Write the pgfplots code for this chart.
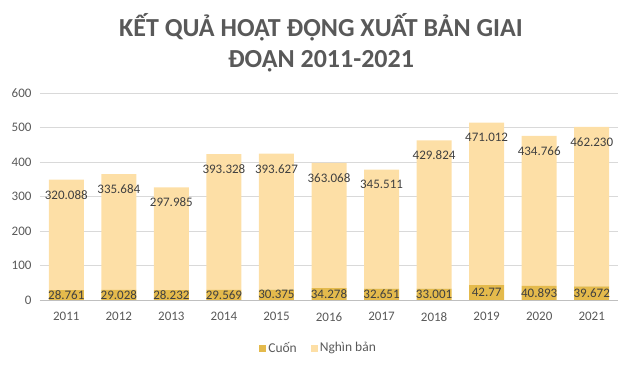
\documentclass[border=0pt]{standalone}
\usepackage{fontspec}
\setmainfont{Carlito}
\usepackage{pgfplots}
\pgfplotsset{compat=1.18}
\definecolor{cuon}{HTML}{E4BA4C}
\definecolor{nghin}{HTML}{FDDFA6}
\definecolor{txt}{HTML}{595959}
\definecolor{lbl}{HTML}{404040}
\definecolor{gridc}{HTML}{D9D9D9}
\definecolor{axc}{HTML}{BFBFBF}
\begin{document}
\begin{tikzpicture}
\begin{axis}[
  name=ax,
  scale only axis, width=578pt, height=207pt,
  xmin=-0.5, xmax=10.5, ymin=0, ymax=600,
  ybar stacked, bar width=35pt,
  xtick={0,1,...,10},
  xticklabels={2011,2012,2013,2014,2015,2016,2017,2018,2019,2020,2021},
  ytick={0,100,...,600},
  ymajorgrids, grid style={draw=gridc, line width=0.75pt},
  axis x line*=bottom, axis y line*=left,
  y axis line style={draw=none},
  x axis line style={draw=axc, line width=0.75pt},
  major tick length=0pt,
  /pgf/number format/assume math mode=true,
  tick label style={font=\fontsize{13}{15}\selectfont, text=txt},
  yticklabel style={xshift=-5pt},
  xticklabel style={yshift=-9pt},
  legend style={at={(0.482,-0.232)}, anchor=center, draw=none, fill=none,
    legend columns=2, font=\fontsize{13.5}{15}\selectfont, text=txt,
    nodes={inner xsep=2pt},
    /tikz/every even column/.append style={column sep=12pt}},
  legend image code/.code={\fill[#1] (0pt,-3.5pt) rectangle (7pt,3.5pt);},
]
\addplot[fill=cuon, draw=none, nodes near coords, point meta=explicit symbolic,
  every node near coord/.append style={anchor=center,
    font=\fontsize{13}{15}\selectfont, text=lbl}]
coordinates {
(0,28.761) [28.761]
(1,29.028) [29.028]
(2,28.232) [28.232]
(3,29.569) [29.569]
(4,30.375) [30.375]
(5,34.278) [34.278]
(6,32.651) [32.651]
(7,33.001) [33.001]
(8,42.77) [42.77]
(9,40.893) [40.893]
(10,39.672) [39.672]
};
\addplot[fill=nghin, draw=none, nodes near coords, point meta=explicit symbolic,
  visualization depends on={value \thisrow{v} \as \myv},
  every node near coord/.append style={anchor=center, yshift={0.1725*\myv pt-15pt},
    font=\fontsize{13}{15}\selectfont, text=lbl}]
table[x=x, y=v, meta=lab] {
x v lab
0 320.088 320.088
1 335.684 335.684
2 297.985 297.985
3 393.328 393.328
4 393.627 393.627
5 363.068 363.068
6 345.511 345.511
7 429.824 429.824
8 471.012 471.012
9 434.766 434.766
10 462.230 462.230
};
\legend{Cuốn, Nghìn bản}
\end{axis}
\node[font=\bfseries\fontsize{26}{31}\selectfont, text=txt, align=center]
  at ([xshift=-8pt,yshift=50pt]ax.north) {KẾT QUẢ HOẠT ĐỘNG XUẤT BẢN GIAI\\ĐOẠN 2011-2021};
\path ([xshift=-40pt,yshift=-69pt]ax.south west) rectangle ([xshift=16pt,yshift=93pt]ax.north east);
\end{tikzpicture}
\end{document}
